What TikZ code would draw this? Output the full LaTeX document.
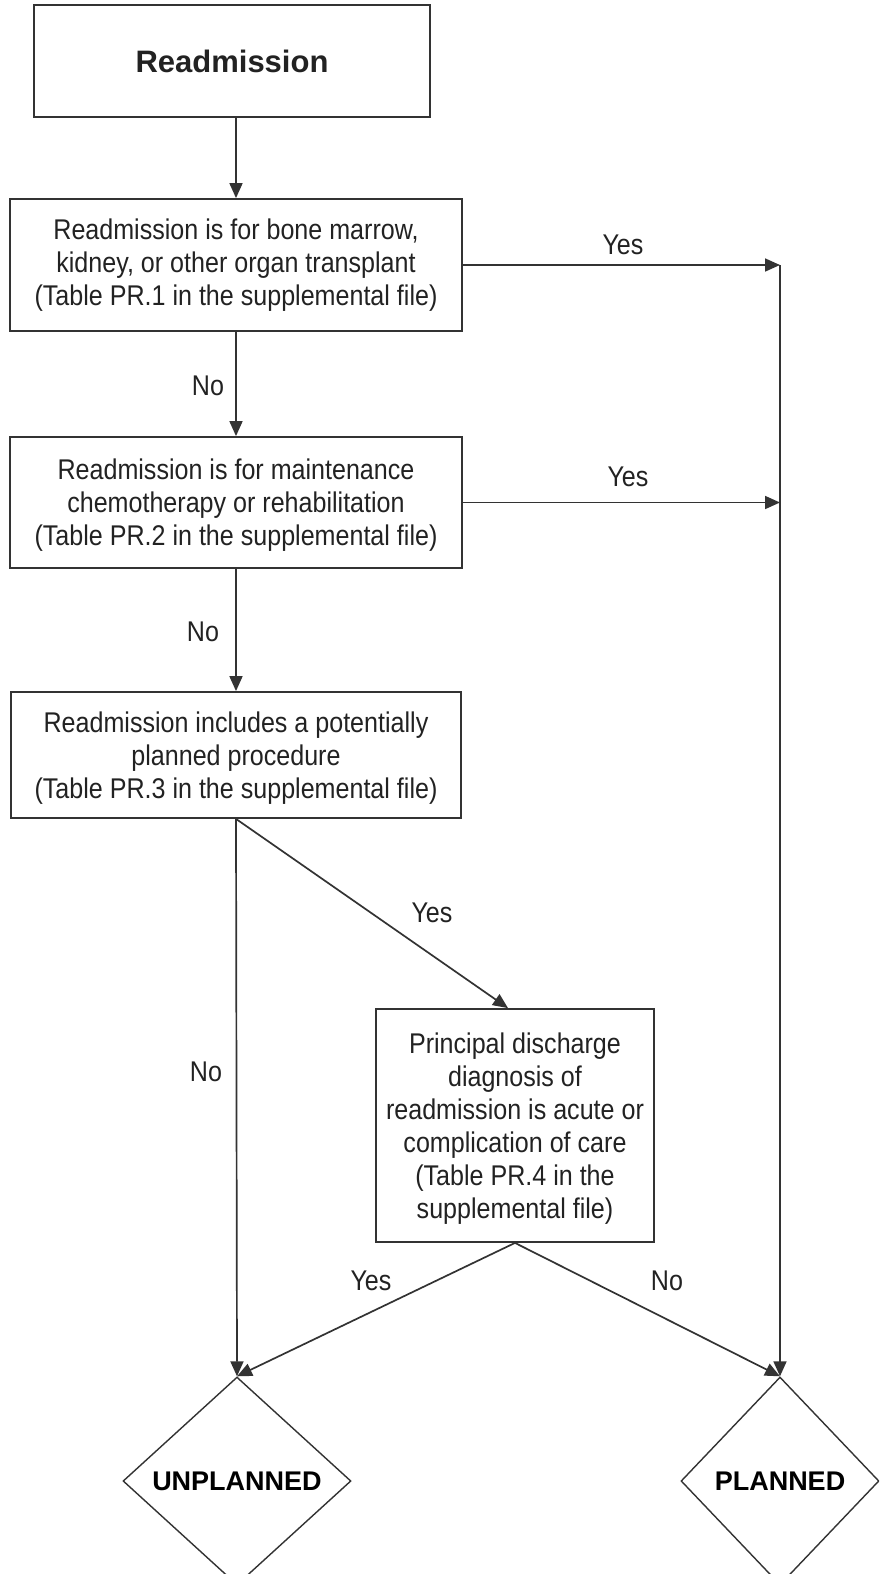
\documentclass[tikz,border=0pt]{standalone}
\usepackage{fontspec}
\setmainfont{Liberation Sans}
\newfontfamily\narrowfont[FakeStretch=0.88]{Liberation Sans}
\usetikzlibrary{arrows.meta,shapes.geometric}
\definecolor{ink}{HTML}{222222}
\definecolor{edge}{HTML}{333333}

\begin{document}
\begin{tikzpicture}[x=1pt,y=-1pt,
  bodytext/.style={text=ink, font=\narrowfont\fontsize{28.5}{33}\selectfont},
  stepbox/.style={bodytext, draw=edge, line width=1.8pt, rectangle, inner sep=0pt, align=center},
  lowered/.style={text depth=-8pt},
  endbox/.style={draw=edge, line width=1.4pt, shape=diamond, inner sep=0pt,
                 text=black, font=\bfseries\fontsize{27}{30}\selectfont},
  flow/.style={draw=edge, line width=1.7pt, -{Triangle[length=15pt,width=13pt]}},
  lbl/.style={bodytext, inner sep=0pt},
]
\clip (0,0) rectangle (879,1574);
\fill[white] (0,0) rectangle (879,1574);

% decision boxes
\node[stepbox, minimum width=396, minimum height=112,
      font=\bfseries\fontsize{31}{36}\selectfont] (start) at (232,61) {Readmission};
\node[stepbox, minimum width=452, minimum height=132] (b1) at (236,265)
  {Readmission is for bone marrow,\\kidney, or other organ transplant\\(Table PR.1 in the supplemental file)};
\node[stepbox, lowered, minimum width=452, minimum height=131] (b2) at (236,502.5)
  {Readmission is for maintenance\\chemotherapy or rehabilitation\\(Table PR.2 in the supplemental file)};
\node[stepbox, lowered, minimum width=450, minimum height=126] (b3) at (236,755)
  {Readmission includes a potentially\\planned procedure\\(Table PR.3 in the supplemental file)};
\node[stepbox, lowered, minimum width=278, minimum height=233] (b4) at (515,1125.5)
  {Principal discharge\\diagnosis of\\readmission is acute or\\complication of care\\(Table PR.4 in the\\supplemental file)};

% outcomes
\node[endbox, minimum width=228, minimum height=208] (unplanned) at (237,1481) {UNPLANNED};
\node[endbox, minimum width=198, minimum height=208] (planned) at (780,1481) {PLANNED};

\coordinate (j1) at (b1.east -| planned.north);
\coordinate (j2) at (b2.east -| planned.north);

% connectors
\draw[flow] (start.south -| b1.north) -- (b1.north);
\draw[flow] (b1.south) -- (b2.north);
\draw[flow] (b2.south) -- (b3.north);
\draw[flow] (b1.east) -- (j1);
\draw[flow] (b2.east) -- (j2);
\draw[flow] (j1) -- (planned.north);
\draw[flow] (b3.south) -- (unplanned.north);
\draw[flow] (b3.south) -- ([xshift=-7pt]b4.north);
\draw[flow] (b4.south) -- (unplanned.north);
\draw[flow] (b4.south) -- (planned.north);

% branch labels
\node[lbl] (yes1) at (623,245) {Yes};
\node[lbl] (no1) at (208,386) {No};
\node[lbl] (yes2) at (628,477) {Yes};
\node[lbl] (no2) at (203,632) {No};
\node[lbl] (yes3) at (432,913) {Yes};
\node[lbl] (no3) at (206,1072) {No};
\node[lbl] (yes4) at (371,1281) {Yes};
\node[lbl] (no4) at (667,1281) {No};
\end{tikzpicture}
\end{document}
